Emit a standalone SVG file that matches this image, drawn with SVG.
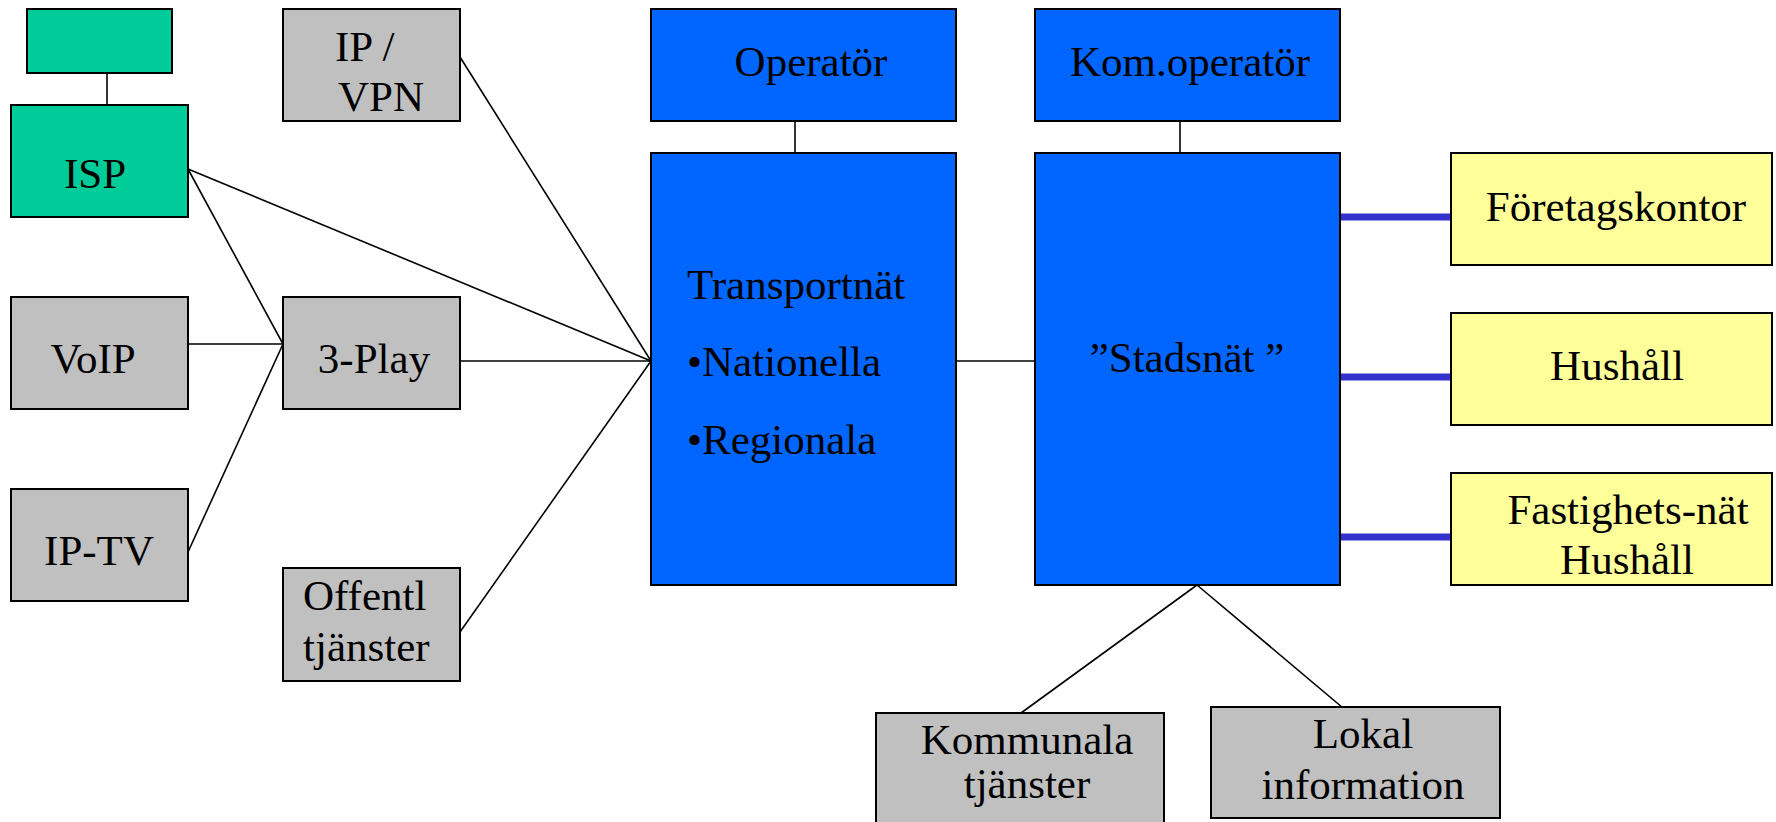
<svg xmlns="http://www.w3.org/2000/svg" width="1776" height="822" viewBox="0 0 1776 822">
<style>
.box{stroke:#000;stroke-width:2}
.g{fill:#00CC99}
.gr{fill:#C0C0C0}
.b{fill:#0066FF}
.y{fill:#FFFF99}
.t{font-family:"Liberation Serif","Times New Roman",serif;font-size:43px;fill:#000}
.c{text-anchor:middle}
.ln{stroke:#000;stroke-width:1.6;fill:none}
.bl{stroke:#3333CC;stroke-width:7;fill:none}
</style>
<rect width="1776" height="822" fill="#fff"/>
<g id="connectors">
<line class="ln" x1="107" y1="73" x2="107" y2="105"/>
<line class="ln" x1="188" y1="169" x2="651" y2="361"/>
<line class="ln" x1="188" y1="169" x2="283" y2="344"/>
<line class="ln" x1="188" y1="344" x2="283" y2="344"/>
<line class="ln" x1="188" y1="552" x2="283" y2="344"/>
<line class="ln" x1="460" y1="361" x2="651" y2="361"/>
<line class="ln" x1="460" y1="57" x2="651" y2="361"/>
<line class="ln" x1="460" y1="632" x2="651" y2="361"/>
<line class="ln" x1="795" y1="121" x2="795" y2="153"/>
<line class="ln" x1="1180" y1="121" x2="1180" y2="153"/>
<line class="ln" x1="956" y1="361" x2="1035" y2="361"/>
<line class="ln" x1="1197" y1="585" x2="1021" y2="713"/>
<line class="ln" x1="1197" y1="585" x2="1349" y2="713"/>
<line class="bl" x1="1341" y1="217" x2="1451" y2="217"/>
<line class="bl" x1="1341" y1="377" x2="1451" y2="377"/>
<line class="bl" x1="1341" y1="537" x2="1451" y2="537"/>
</g>
<g id="top-green"><rect class="box g" x="27" y="9" width="145" height="64"/></g>
<g id="isp"><rect class="box g" x="11" y="105" width="177" height="112"/><text class="t c" x="95" y="188">ISP</text></g>
<g id="ipvpn"><rect class="box gr" x="283" y="9" width="177" height="112"/><text class="t" x="335" y="61">IP /</text><text class="t" x="338" y="111">VPN</text></g>
<g id="voip"><rect class="box gr" x="11" y="297" width="177" height="112"/><text class="t c" x="93" y="373">VoIP</text></g>
<g id="play3"><rect class="box gr" x="283" y="297" width="177" height="112"/><text class="t c" x="374" y="373">3-Play</text></g>
<g id="iptv"><rect class="box gr" x="11" y="489" width="177" height="112"/><text class="t c" x="99" y="565">IP-TV</text></g>
<g id="offentl"><rect class="box gr" x="283" y="568" width="177" height="113"/><text class="t" x="303" y="610">Offentl</text><text class="t" x="303" y="661">tjänster</text></g>
<g id="operator"><rect class="box b" x="651" y="9" width="305" height="112"/><text class="t c" x="811" y="76">Operatör</text></g>
<g id="transport"><rect class="box b" x="651" y="153" width="305" height="432"/><text class="t" x="687" y="299">Transportnät</text><text class="t" x="687" y="376">•Nationella</text><text class="t" x="687" y="454">•Regionala</text></g>
<g id="komoperator"><rect class="box b" x="1035" y="9" width="305" height="112"/><text class="t c" x="1190" y="76">Kom.operatör</text></g>
<g id="stadsnat"><rect class="box b" x="1035" y="153" width="305" height="432"/><text class="t c" x="1187" y="372">”Stadsnät ”</text></g>
<g id="foretag"><rect class="box y" x="1451" y="153" width="321" height="112"/><text class="t c" x="1616" y="221">Företagskontor</text></g>
<g id="hushall"><rect class="box y" x="1451" y="313" width="321" height="112"/><text class="t c" x="1617" y="380">Hushåll</text></g>
<g id="fastighet"><rect class="box y" x="1451" y="473" width="321" height="112"/><text class="t c" x="1628" y="524">Fastighets-nät</text><text class="t c" x="1627" y="574">Hushåll</text></g>
<g id="kommunala"><rect class="box gr" x="876" y="713" width="288" height="115"/><text class="t c" x="1027" y="754">Kommunala</text><text class="t c" x="1027" y="798">tjänster</text></g>
<g id="lokal"><rect class="box gr" x="1211" y="707" width="289" height="111"/><text class="t c" x="1363" y="748">Lokal</text><text class="t c" x="1363" y="799">information</text></g>
</svg>
